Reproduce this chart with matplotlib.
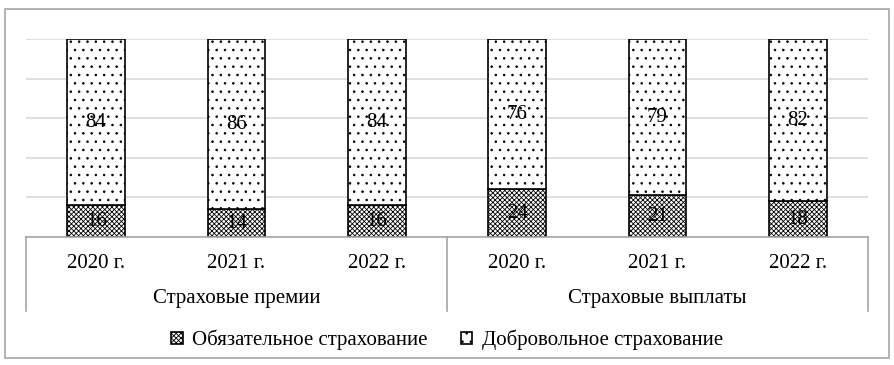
import matplotlib
matplotlib.use("Agg")
import matplotlib.pyplot as plt
import matplotlib.patches as mpatches
import matplotlib.transforms as mtransforms

plt.rcParams["font.family"] = ["Liberation Serif", "DejaVu Serif"]
plt.rcParams["hatch.linewidth"] = 0.6

years = ["2020 г.", "2021 г.", "2022 г.", "2020 г.", "2021 г.", "2022 г."]
groups = ["Страховые премии", "Страховые выплаты"]
mandatory = [16, 14, 16, 24, 21, 18]
voluntary = [84, 86, 84, 76, 79, 82]
series_names = ["Обязательное страхование", "Добровольное страхование"]

W, H = 894, 365
fig = plt.figure(figsize=(W / 100, H / 100), dpi=100)

# outer chart border
fig.patches.append(mpatches.Rectangle((5 / W, 1 - 358 / H), 884 / W, 349 / H,
                                      transform=fig.transFigure, fill=False,
                                      edgecolor="#a6a6a6", linewidth=1.2))

ax = fig.add_axes([26 / W, 1 - 237 / H, 842 / W, 198 / H])
x = list(range(len(years)))

b1 = ax.bar(x, mandatory, width=0.41, color="white", edgecolor="black",
            hatch="xxxxxxx", linewidth=1.2, label=series_names[0], zorder=3)
b2 = ax.bar(x, voluntary, width=0.41, bottom=mandatory, color="white",
            edgecolor="black", hatch="..", linewidth=1.2, label=series_names[1], zorder=3)
ax.bar_label(b1, labels=[str(v) for v in mandatory], label_type="center", fontsize=15)
ax.bar_label(b2, labels=[str(v) for v in voluntary], label_type="center", fontsize=15)

ax.set_xlim(-0.5, len(years) - 0.5)
ax.set_ylim(0, 100)
ax.set_yticks(range(0, 101, 20))
ax.yaxis.grid(True, color="#d9d9d9", linewidth=1.2)
ax.set_axisbelow(True)
ax.tick_params(left=False, labelleft=False, bottom=False, labelbottom=False)
for s in ax.spines.values():
    s.set_visible(False)

# multi-level category axis
tr = mtransforms.blended_transform_factory(ax.transData, ax.transAxes)
depth = (311 - 237) / 198
ax.plot([-0.5, len(years) - 0.5], [0, 0], transform=tr, color="#a6a6a6",
        linewidth=1.2, clip_on=False, zorder=4)
for xv in [-0.5, 2.5, 5.5]:
    ax.plot([xv, xv], [0, -depth], transform=tr, color="#a6a6a6",
            linewidth=1.2, clip_on=False)
for xi, lab in zip(x, years):
    ax.text(xi, -(264 - 237) / 198, lab, transform=tr, ha="center", va="center",
            fontsize=15)
for gi, g in enumerate(groups):
    ax.text(gi * 3 + 1, -(298 - 237) / 198, g, transform=tr, ha="center",
            va="center", fontsize=15)

leg = fig.legend(handles=[b1, b2], loc="center", bbox_to_anchor=(0.5, 1 - 340 / H),
                 ncol=2, frameon=False, fontsize=15, handlelength=0.55,
                 handleheight=0.55, handletextpad=0.45, columnspacing=1.6)

fig.savefig("out.png", dpi=100)
